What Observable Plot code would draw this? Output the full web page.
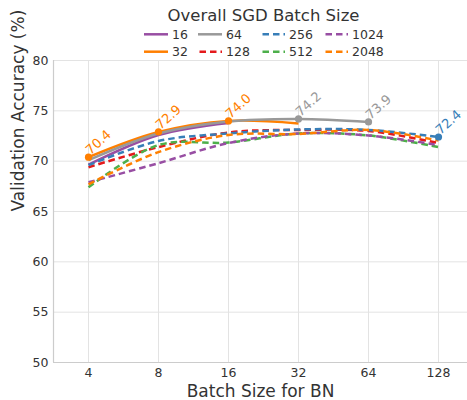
<!DOCTYPE html>
<html>
<head>
<meta charset="utf-8">
<script src="https://cdn.jsdelivr.net/npm/d3@7"></script>
<script src="https://cdn.jsdelivr.net/npm/@observablehq/plot@0.6"></script>
<style>
  html, body { margin: 0; padding: 0; background: #fff; }
  #wrap { width: 467px; height: 400px; overflow: hidden; font-family: "DejaVu Sans", sans-serif; }
  svg { display: block; }
</style>
</head>
<body>
<div id="wrap"></div>
<script>
// ---- data ----
const bnSizes = [4, 8, 16, 32, 64, 128];
const seriesNames = ["16", "32", "64", "128", "256", "512", "1024", "2048"];
const seriesColors = ["#984ea3", "#ff7f00", "#999999", "#e41a1c", "#377eb8", "#4daf4a", "#984ea3", "#ff7f00"];
const seriesDashed = [false, false, false, true, true, true, true, true];
const acc16   = [69.65, 72.6, 73.8];
const acc32   = [70.4, 72.9, 74.0, 73.75];
const acc64   = [70.1, 72.75, 73.95, 74.2, 73.9];
const acc128  = [69.4, 71.4, 72.85, 73.1, 73.0, 71.8];
const acc256  = [69.6, 72.0, 72.75, 73.15, 73.1, 72.4];
const acc512  = [67.4, 71.6, 71.85, 72.75, 72.55, 71.4];
const acc1024 = [67.9, 69.8, 71.8, 72.75, 72.55, 71.6];
const acc2048 = [67.7, 70.9, 72.6, 72.7, 73.1, 72.05];
const seriesValues = [acc16, acc32, acc64, acc128, acc256, acc512, acc1024, acc2048];
const xTicks = [4, 8, 16, 32, 64, 128];
const yTicks = [50, 55, 60, 65, 70, 75, 80];
const xDomain = [Math.pow(2, 1.5), Math.pow(2, 7.414)];
const yDomain = [50, 80];
const legendTitle = "Overall SGD Batch Size";
const xLabel = "Batch Size for BN";
const yLabel = "Validation Accuracy (%)";

// tidy rows
const rows = [];
seriesNames.forEach((s, i) => seriesValues[i].forEach((v, j) => rows.push({series: s, idx: i, bn: bnSizes[j], acc: v})));
// best per BN size
const best = bnSizes.map(bn => {
  const cand = rows.filter(r => r.bn === bn);
  return cand.reduce((a, b) => (b.acc > a.acc ? b : a));
});

// ---- legend (svg) ----
const NS = "http://www.w3.org/2000/svg";
const leg = document.createElementNS(NS, "svg");
leg.setAttribute("width", 467); leg.setAttribute("height", 60);
leg.setAttribute("font-family", "DejaVu Sans, sans-serif");
const t = document.createElementNS(NS, "text");
t.setAttribute("x", 263.5); t.setAttribute("y", 21); t.setAttribute("text-anchor", "middle");
t.setAttribute("font-size", "16.5"); t.setAttribute("fill", "#333"); t.textContent = legendTitle;
leg.appendChild(t);
const colX = [144, 198, 261, 324];
const rowY = [34.3, 51.7];
seriesNames.forEach((s, i) => {
  const cx = colX[Math.floor(i / 2)], cy = rowY[i % 2];
  const ln = document.createElementNS(NS, "line");
  ln.setAttribute("x1", cx); ln.setAttribute("x2", cx + 24);
  ln.setAttribute("y1", cy); ln.setAttribute("y2", cy);
  ln.setAttribute("stroke", seriesColors[i]); ln.setAttribute("stroke-width", 2.5);
  if (seriesDashed[i]) { ln.setAttribute("stroke-dasharray", "6.5,4"); ln.setAttribute("stroke-dashoffset", "-1.5"); }
  leg.appendChild(ln);
  const tx = document.createElementNS(NS, "text");
  tx.setAttribute("x", cx + 28); tx.setAttribute("y", cy + 4.5);
  tx.setAttribute("font-size", "12.5"); tx.setAttribute("fill", "#333");
  tx.textContent = s;
  leg.appendChild(tx);
});
document.getElementById("wrap").appendChild(leg);

// ---- chart ----
const marks = [
  Plot.gridY(yTicks, {stroke: "#e3e3e3", strokeOpacity: 1, strokeWidth: 1}),
  Plot.gridX(xTicks, {stroke: "#e3e3e3", strokeOpacity: 1, strokeWidth: 1}),
  Plot.ruleX([xDomain[0]], {stroke: "#cccccc", strokeWidth: 1.2}),
  Plot.ruleY([yDomain[0]], {stroke: "#cccccc", strokeWidth: 1.2}),
  Plot.axisX(xTicks, {tickSize: 0, tickPadding: 6, tickFormat: d => String(d), fontSize: 12.5, label: null, fill: "#333"}),
  Plot.axisY(yTicks, {tickSize: 0, tickPadding: 5, fontSize: 12.5, label: null, fill: "#333"}),
  Plot.text([xLabel], {frameAnchor: "bottom", dy: 29, fontSize: 17, fill: "#333", lineAnchor: "middle"}),
  Plot.text([yLabel], {frameAnchor: "left", dx: -35, rotate: -90, fontSize: 17, fill: "#333"})
];
seriesNames.forEach((s, i) => {
  marks.push(Plot.line(rows.filter(r => r.idx === i), {
    x: "bn", y: "acc", stroke: seriesColors[i], strokeWidth: 2.5,
    strokeDasharray: seriesDashed[i] ? "6.5,4" : null,
    curve: "catmull-rom", strokeLinecap: "butt"
  }));
});
marks.push(Plot.dot(best, {x: "bn", y: "acc", r: 3.6, fill: d => seriesColors[d.idx], stroke: "none"}));
marks.push(Plot.text(best, {
  x: "bn", y: "acc", text: d => d.acc.toFixed(1), fill: d => seriesColors[d.idx],
  rotate: -42, textAnchor: "start", lineAnchor: "bottom", dx: 2, dy: -2, fontSize: 13
}));

const chart = Plot.plot({
  width: 467,
  height: 340,
  marginTop: 0,
  marginBottom: 38,
  marginLeft: 53,
  marginRight: 0,
  style: {fontFamily: "DejaVu Sans, sans-serif", background: "transparent", color: "#333", overflow: "visible"},
  x: {type: "log", base: 2, domain: xDomain, axis: null},
  y: {domain: yDomain, axis: null},
  marks
});
document.getElementById("wrap").appendChild(chart);
</script>
</body>
</html>
